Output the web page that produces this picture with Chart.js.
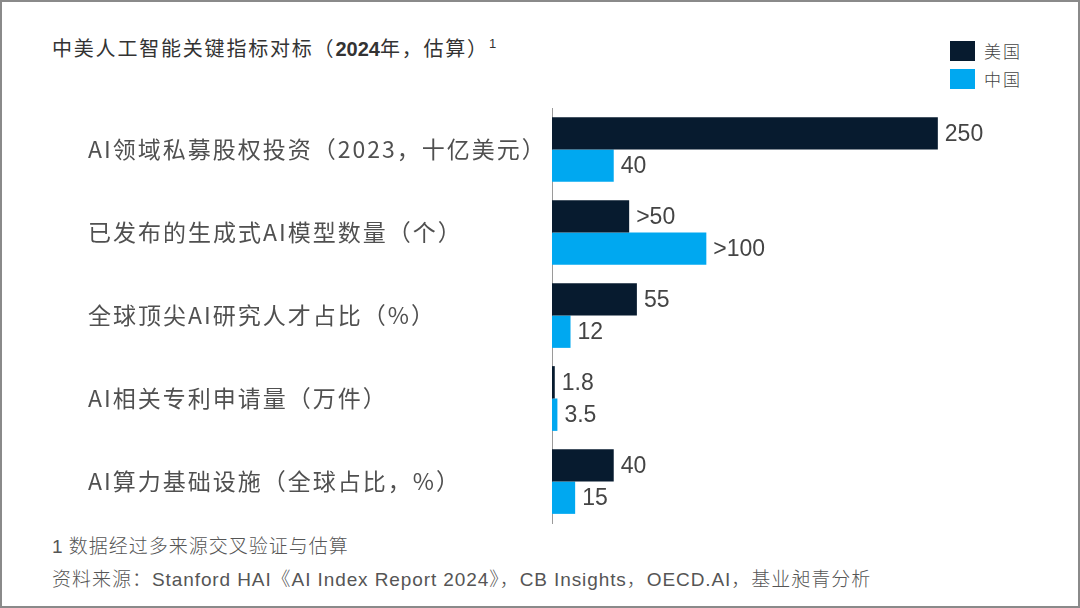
<!DOCTYPE html>
<html>
<head>
<meta charset="utf-8">
<script src="https://cdn.jsdelivr.net/npm/chart.js@4.4.1/dist/chart.umd.min.js"></script>
<style>
    html, body { margin: 0; padding: 0; background: #fff; }
    body { width: 1080px; height: 608px; position: relative; overflow: hidden;
        font-family: "Noto Sans CJK SC", "Liberation Sans", sans-serif; }
    #frame { position: absolute; left: 0; top: 0; width: 1076px; height: 604px;
        border: 2px solid #8a8a8a; pointer-events: none; }
    #title { position: absolute; left: 52px; top: 33px; font-size: 20px; color: #333;
        letter-spacing: 1.8px; font-weight: 400; white-space: nowrap; }
    #title b { font-family: "Liberation Sans", Arial, sans-serif; font-weight: 700; letter-spacing: 0; }
    #title sup { font-family: "Liberation Sans", Arial, sans-serif; font-size: 13px; font-weight: 400;
        vertical-align: 8px; margin-left: 0; }
    .legend { position: absolute; left: 950px; font-size: 17px; color: #444; white-space: nowrap;
        font-weight: 300; letter-spacing: 2px; }
    .legend span { display: inline-block; width: 25px; height: 20px; vertical-align: -3px; margin-right: 9px; }
    #chartBox { position: absolute; left: 0; top: 100px; width: 1080px; height: 430px; }
    .note { position: absolute; left: 52px; font-size: 19px; color: #555; white-space: nowrap;
        font-weight: 300; letter-spacing: 1px; }
    .note .lat { font-family: "Liberation Sans", Arial, sans-serif; font-weight: 400; letter-spacing: 0.9px; }
</style>
</head>
<body>
<div id="title">中美人工智能关键指标对标（<b>2024</b>年，估算）<sup>1</sup></div>
<div class="legend" id="leg0" style="top:38px"></div>
<div class="legend" id="leg1" style="top:66px"></div>
<div id="chartBox"><canvas id="mainChart"></canvas></div>
<div class="note" style="top:531px"><span class="lat">1</span> 数据经过多来源交叉验证与估算</div>
<div class="note" style="top:564px">资料来源：<span class="lat">Stanford HAI</span>《<span class="lat">AI Index Report 2024</span>》，<span class="lat">CB Insights</span>，<span class="lat">OECD.AI</span>，基业昶青分析</div>
<div id="frame"></div>

<script>
/*
    Data
*/
var categories = [
    'AI领域私募股权投资（2023，十亿美元）',
    '已发布的生成式AI模型数量（个）',
    '全球顶尖AI研究人才占比（%）',
    'AI相关专利申请量（万件）',
    'AI算力基础设施（全球占比，%）'
];
var seriesNames = ['美国', '中国'];
var seriesColors = ['#071b2f', '#00a8f0'];
var usValues = [250, 50, 55, 1.8, 40];
var cnValues = [40, 100, 12, 3.5, 15];
var usLabels = ['250', '>50', '55', '1.8', '40'];
var cnLabels = ['40', '>100', '12', '3.5', '15'];

// html legend
for (var i = 0; i < seriesNames.length; i++) {
    document.getElementById('leg' + i).innerHTML =
        '<span style="background:' + seriesColors[i] + '"></span>' + seriesNames[i];
}

/*
    value labels next to bar ends
*/
var valueLabelPlugin = {
    id: 'valueLabels',
    beforeDraw: function(chart) {
        chart.ctx.letterSpacing = '2px';
    },
    afterDatasetsDraw: function(chart) {
        var ctx = chart.ctx;
        ctx.save();
        ctx.letterSpacing = '0px';
        ctx.font = '23px "Liberation Sans", Arial, sans-serif';
        ctx.fillStyle = '#444';
        ctx.textAlign = 'left';
        ctx.textBaseline = 'middle';
        chart.data.datasets.forEach(function(ds, di) {
            var meta = chart.getDatasetMeta(di);
            meta.data.forEach(function(bar, idx) {
                ctx.fillText(ds.valueLabels[idx], bar.x + 7, bar.y + 1);
            });
        });
        ctx.restore();
    }
};

function drawChart(chartID) {
    var ctx = document.getElementById(chartID);

    var config = {
        type: 'bar',
        data: {
            labels: categories,
            datasets: [
                {
                    label: seriesNames[0],
                    data: usValues,
                    valueLabels: usLabels,
                    backgroundColor: seriesColors[0],
                },
                {
                    label: seriesNames[1],
                    data: cnValues,
                    valueLabels: cnLabels,
                    backgroundColor: seriesColors[1],
                },
            ]
        },
        options: {
            indexAxis: 'y',
            responsive: true,
            maintainAspectRatio: false,
            animation: false,
            categoryPercentage: 0.78,
            barPercentage: 1.0,
            layout: {
                padding: { top: 8, bottom: 7, left: 88, right: 65 }
            },
            plugins: {
                legend: { display: false },
                tooltip: { enabled: false },
            },
            scales: {
                x: {
                    display: false,
                    min: 0,
                    max: 300,
                },
                y: {
                    afterFit: function(scale) {
                        scale.width = 552 - 88;
                        scale.paddingTop = 0;
                        scale.paddingBottom = 0;
                    },
                    grid: {
                        display: true,
                        drawOnChartArea: false,
                        drawTicks: false,
                    },
                    border: {
                        display: true,
                        color: '#9a9a9a',
                        width: 1,
                    },
                    ticks: {
                        crossAlign: 'far',
                        color: '#505050',
                        font: {
                            family: '"Noto Sans CJK SC", sans-serif',
                            size: 23,
                            weight: 400,
                        }
                    }
                }
            }
        },
        plugins: [valueLabelPlugin]
    };
    new Chart(ctx, config);
}

drawChart('mainChart');
</script>
</body>
</html>
